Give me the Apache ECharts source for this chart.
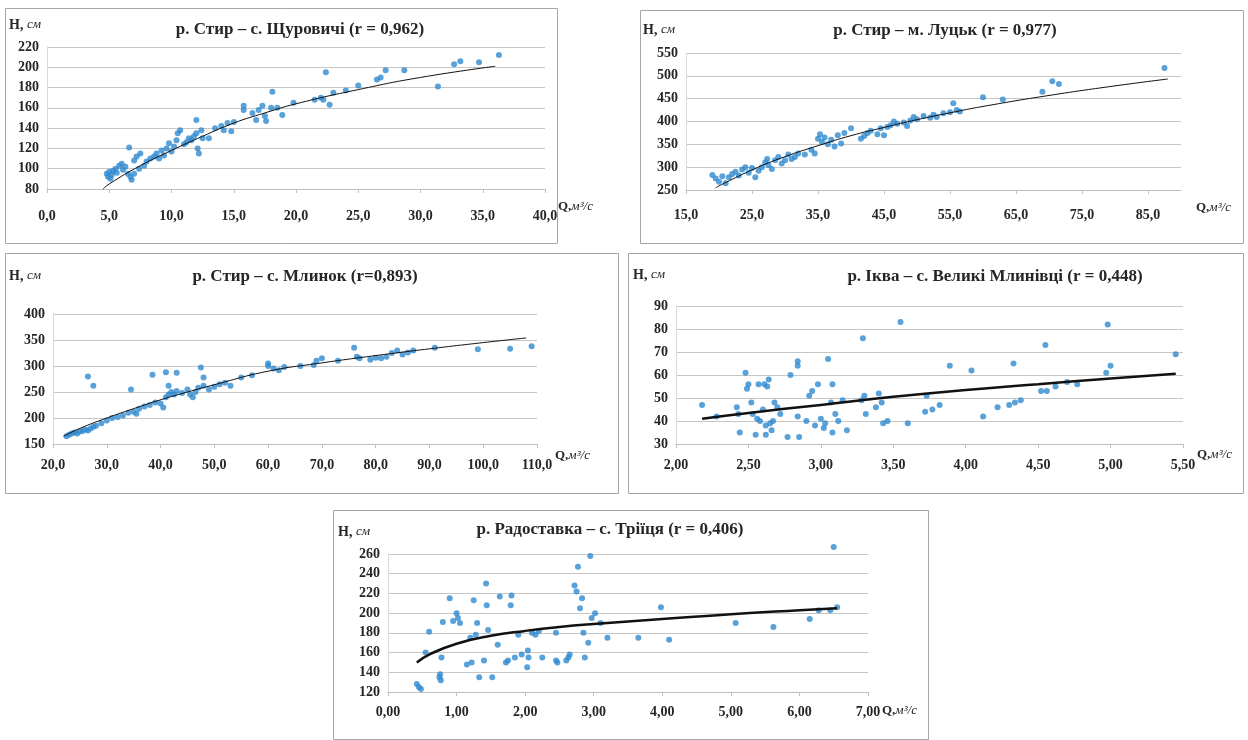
<!DOCTYPE html>
<html>
<head>
<meta charset="utf-8">
<title>H = f(Q)</title>
<script src="https://cdn.jsdelivr.net/npm/echarts@6/dist/echarts.min.js"></script>
<style>
  html, body { margin: 0; padding: 0; background: #fff; }
  #chart { width: 1248px; height: 740px; }
</style>
</head>
<body>
<div id="chart"></div>
<script>
// Залежність рівня води H (см) від витрати Q (м³/с) для п'яти постів

const titles = [
  'р. Стир – с. Щуровичі (r = 0,962)',
  'р. Стир – м. Луцьк (r = 0,977)',
  'р. Стир – с. Млинок (r=0,893)',
  'р. Іква – с. Великі Млинівці (r = 0,448)',
  'р. Радоставка – с. Тріїця (r = 0,406)'
]

// осі: [min, max, interval]
const xRange = [[0, 40, 5], [15, 90, 10], [20, 110, 10], [2, 5.5, 0.5], [0, 7, 1]]
const yRange = [[80, 220, 20], [250, 550, 50], [150, 400, 50], [30, 90, 10], [120, 260, 20]]
const xDecimals = [1, 1, 1, 2, 2]

// р. Стир – с. Щуровичі
const shchurovychiPoints = [
  [4.8, 95], [4.9, 92], [5.0, 97], [5.1, 90], [5.2, 94], [5.3, 98], [5.5, 100], [5.6, 96],
  [5.8, 103], [6.0, 105], [6.1, 99], [6.3, 102], [6.5, 95], [6.6, 121], [6.7, 92], [6.8, 89],
  [7.0, 95], [7.0, 108], [7.2, 112], [7.4, 100], [7.5, 115], [7.8, 103], [8.0, 107], [8.3, 110],
  [8.6, 112], [8.8, 115], [9.0, 110], [9.2, 118], [9.4, 113], [9.6, 120], [9.8, 125], [10.0, 117],
  [10.2, 122], [10.4, 128], [10.5, 135], [10.7, 138], [11.0, 124], [11.2, 126], [11.4, 130],
  [11.6, 128], [11.8, 132], [12.0, 135], [12.0, 148], [12.1, 120], [12.2, 115], [12.4, 138],
  [12.5, 130], [13.0, 130], [13.5, 140], [14.0, 142], [14.2, 138], [14.5, 145], [14.8, 137],
  [15.0, 146], [15.8, 158], [15.8, 162], [16.5, 155], [16.8, 148], [17.0, 158], [17.3, 162],
  [17.5, 152], [17.6, 147], [18.0, 160], [18.1, 176], [18.5, 160], [18.9, 153], [19.8, 165],
  [21.5, 168], [22.0, 170], [22.2, 168], [22.4, 195], [22.7, 163], [23.0, 175], [24.0, 177],
  [25.0, 182], [26.5, 188], [26.8, 190], [27.2, 197], [28.7, 197], [31.4, 181], [32.7, 203],
  [33.2, 206], [34.7, 205], [36.3, 212]
]
const shchurovychiTrend = [
  [4.5, 80], [5, 85], [7.5, 103], [10, 118], [12.5, 132], [15, 145], [17.5, 155],
  [20, 164], [25, 178], [30, 190], [36, 201]
]

// р. Стир – м. Луцьк
const lutskPoints = [
  [19, 283], [19.5, 275], [20, 268], [20.5, 280], [21, 265], [21.5, 278], [22, 285], [22.5, 290],
  [23, 282], [23.5, 295], [24, 300], [24.5, 288], [25, 298], [25.5, 278], [26, 292], [26.5, 300],
  [27, 310], [27.3, 318], [27.5, 305], [28, 296], [28.5, 315], [29, 322], [29.5, 308], [30, 315],
  [30.5, 328], [31, 318], [31.5, 322], [32, 330], [33, 328], [34, 338], [34.5, 330], [35, 362],
  [35.3, 372], [35.6, 355], [36, 365], [36.5, 350], [37, 360], [37.5, 345], [38, 370],
  [38.5, 352], [39, 375], [40, 385], [41.5, 362], [42, 368], [42.5, 375], [43, 380], [44, 372],
  [44.5, 385], [45, 370], [45.5, 388], [46, 392], [46.5, 400], [47, 395], [48, 398], [48.5, 390],
  [49, 402], [49.5, 410], [50, 405], [51, 412], [52, 408], [52.5, 415], [53, 410], [54, 418],
  [55, 420], [55.5, 440], [56, 425], [56.5, 422], [60, 453], [63, 448], [69, 465], [70.5, 488],
  [71.5, 482], [87.5, 517]
]
const lutskTrend = [
  [19.5, 255], [25, 294], [30, 323], [35, 347], [40, 369], [45, 387], [50, 404],
  [55, 419], [60, 433], [70, 457], [80, 478], [88, 493]
]

// р. Стир – с. Млинок
const mlynokPoints = [
  [22.5, 165], [23, 168], [23.5, 170], [24, 172], [24.5, 170], [25, 174], [25.5, 175], [26, 178],
  [26.5, 176], [27, 180], [27.5, 183], [28, 185], [29, 190], [30, 195], [31, 200], [32, 202],
  [33, 205], [34, 210], [35, 212], [35.5, 208], [36, 218], [37, 222], [38, 225], [39, 230],
  [40, 228], [40.5, 220], [41, 240], [41.5, 245], [42, 250], [42.5, 245], [43, 252], [44, 248],
  [45, 255], [45.5, 245], [46, 240], [46.5, 250], [47, 258], [48, 262], [49, 255], [50, 260],
  [51, 265], [52, 268], [53, 262], [55, 278], [57, 282], [60, 300], [61, 295], [62, 292],
  [63, 298], [66, 300], [68.5, 302], [69, 310], [70, 315], [73, 310], [76, 335], [76.5, 318],
  [77, 315], [79, 312], [80, 316], [81, 315], [82, 318], [83, 325], [84, 330], [85, 322],
  [86, 326], [87, 330], [91, 335], [99, 332], [105, 333], [109, 338],
  [26.5, 280], [27.5, 262], [34.5, 255], [38.5, 283], [41, 288], [43, 287], [47.5, 297],
  [48, 278], [41.5, 262], [60, 305]
]
const mlynokTrend = [
  [22, 165], [25, 180], [30, 200], [35, 218], [40, 235], [45, 250], [50, 264],
  [60, 290], [70, 306], [80, 320], [90, 333], [100, 345], [108, 354]
]

// р. Іква – с. Великі Млинівці
const mlynivtsiPoints = [
  [2.18, 47], [2.28, 42], [2.42, 46], [2.43, 43], [2.44, 35], [2.48, 61], [2.49, 54], [2.50, 56],
  [2.52, 48], [2.53, 43], [2.55, 34], [2.56, 41], [2.57, 56], [2.58, 40], [2.60, 45], [2.61, 56],
  [2.62, 38], [2.62, 34], [2.63, 55], [2.64, 58], [2.65, 39], [2.66, 36], [2.67, 40], [2.68, 48],
  [2.70, 46], [2.72, 43], [2.77, 33], [2.79, 60], [2.84, 66], [2.84, 64], [2.84, 42], [2.85, 33],
  [2.90, 40], [2.92, 51], [2.94, 53], [2.96, 38], [2.98, 56], [3.00, 41], [3.02, 37], [3.03, 39],
  [3.05, 67], [3.07, 48], [3.08, 35], [3.08, 56], [3.10, 43], [3.12, 40], [3.15, 49], [3.18, 36],
  [3.28, 49], [3.29, 76], [3.30, 51], [3.31, 43], [3.38, 46], [3.40, 52], [3.42, 48], [3.43, 39],
  [3.46, 40], [3.55, 83], [3.60, 39], [3.72, 44], [3.73, 51], [3.77, 45], [3.82, 47], [3.89, 64],
  [4.04, 62], [4.12, 42], [4.22, 46], [4.30, 47], [4.33, 65], [4.34, 48], [4.38, 49], [4.52, 53],
  [4.55, 73], [4.56, 53], [4.62, 55], [4.70, 57], [4.77, 56], [4.97, 61], [4.98, 82], [5.00, 64],
  [5.45, 69]
]
const mlynivtsiTrend = [
  [2.18, 41], [2.5, 43.5], [3.0, 47], [3.5, 50.5], [4.0, 53.5], [4.5, 56], [5.0, 58.5], [5.45, 60.5]
]

// р. Радоставка – с. Тріїця
const triitsiaPoints = [
  [0.42, 128], [0.45, 125], [0.48, 123], [0.55, 160], [0.60, 181], [0.75, 135], [0.76, 138],
  [0.77, 132], [0.78, 155], [0.80, 191], [0.90, 215], [0.95, 192], [1.00, 200], [1.02, 195],
  [1.05, 190], [1.15, 148], [1.20, 175], [1.22, 150], [1.25, 213], [1.28, 178], [1.30, 190],
  [1.33, 135], [1.40, 152], [1.43, 230], [1.44, 208], [1.46, 183], [1.52, 135], [1.60, 168],
  [1.63, 217], [1.72, 150], [1.75, 152], [1.79, 208], [1.80, 218], [1.85, 155], [1.90, 178],
  [1.95, 158], [2.03, 145], [2.04, 162], [2.05, 155], [2.10, 180], [2.15, 178], [2.20, 182],
  [2.25, 155], [2.45, 180], [2.45, 152], [2.47, 150], [2.60, 152], [2.63, 155], [2.65, 158],
  [2.72, 228], [2.75, 222], [2.77, 247], [2.80, 205], [2.83, 215], [2.85, 180], [2.87, 155],
  [2.92, 170], [2.95, 258], [2.97, 195], [3.02, 200], [3.10, 190], [3.20, 175], [3.65, 175],
  [3.98, 206], [4.10, 173], [5.07, 190], [5.62, 186], [6.15, 194], [6.28, 203], [6.45, 203],
  [6.50, 267], [6.55, 206]
]
const triitsiaTrend = [
  [0.42, 150], [0.6, 158], [1.0, 169], [1.5, 177], [2.0, 182], [2.5, 186], [3.0, 189],
  [4.0, 194], [5.0, 199], [6.0, 203], [6.55, 205]
]

const points = [shchurovychiPoints, lutskPoints, mlynokPoints, mlynivtsiPoints, triitsiaPoints]
const trends = [shchurovychiTrend, lutskTrend, mlynokTrend, mlynivtsiTrend, triitsiaTrend]

// розмітка: рамка [x, y, w, h], сітка [left, top, width, height]
const frames = [[5, 8, 552, 235], [640, 10, 603, 233], [5, 253, 613, 240], [628, 253, 615, 240], [333, 510, 595, 229]]
const grids = [[47, 47, 498, 142], [686, 53, 495, 137], [53, 314, 484, 130], [676, 306, 507, 138], [388, 554, 480, 138]]
const titlePos = [[300, 30], [945, 31], [305, 277], [995, 277], [610, 530]]
const hPos = [[9, 25], [643, 30], [9, 276], [633, 275], [338, 532]]
const qPos = [[558, 207], [1196, 208], [555, 456], [1197, 455], [882, 711]]
const lineWidth = [1, 1, 1, 2.5, 2.5]
const xMargin = [20, 18, 14, 14, 13]

const serif = "'Liberation Serif', 'DejaVu Serif', serif"
const fmt = (v, d) => v.toFixed(d).replace('.', ',')

const myChart = echarts.init(document.getElementById('chart'))

const grid = [], xAxis = [], yAxis = [], series = [], graphic = []

for (let i = 0; i < 5; i++) {
  const g = grids[i]
  grid.push({ left: g[0], top: g[1], width: g[2], height: g[3], containLabel: false })
  xAxis.push({
    gridIndex: i,
    type: 'value',
    min: xRange[i][0],
    max: xRange[i][1],
    interval: xRange[i][2],
    axisLine: { show: true, lineStyle: { color: '#bfbfbf' } },
    axisTick: { show: true, length: 4, lineStyle: { color: '#bfbfbf' } },
    splitLine: { show: false },
    axisLabel: {
      margin: xMargin[i],
      showMaxLabel: i !== 1,
      formatter: (v) => fmt(v, xDecimals[i]),
      fontFamily: serif,
      fontWeight: 'bold',
      fontSize: 14,
      color: '#262626',
    },
  })
  yAxis.push({
    gridIndex: i,
    type: 'value',
    min: yRange[i][0],
    max: yRange[i][1],
    interval: yRange[i][2],
    axisLine: { show: true, lineStyle: { color: '#d9d9d9' } },
    axisTick: { show: false },
    splitLine: { show: true, lineStyle: { color: '#c6c6c6' } },
    axisLabel: {
      margin: 8,
      fontFamily: serif,
      fontWeight: 'bold',
      fontSize: 14,
      color: '#262626',
    },
  })
  series.push({
    type: 'scatter',
    xAxisIndex: i,
    yAxisIndex: i,
    data: points[i],
    symbolSize: 6,
    clip: false,
    itemStyle: { color: '#2f8ad0' },
  })
  series.push({
    type: 'line',
    xAxisIndex: i,
    yAxisIndex: i,
    data: trends[i],
    smooth: true,
    showSymbol: false,
    lineStyle: { color: '#111', width: lineWidth[i] },
    z: 3,
  })

  // рамка панелі
  graphic.push({
    type: 'rect',
    shape: { x: frames[i][0] + 0.5, y: frames[i][1] + 0.5, width: frames[i][2], height: frames[i][3] },
    style: { fill: 'none', stroke: '#a6a6a6', lineWidth: 1 },
    z: -1,
  })
  // заголовок
  graphic.push({
    type: 'text',
    x: titlePos[i][0],
    y: titlePos[i][1],
    style: {
      text: titles[i],
      font: 'bold 17px ' + serif,
      fill: '#262626',
      align: 'center',
      verticalAlign: 'middle',
    },
  })
  // підпис осі H
  graphic.push({
    type: 'text',
    x: hPos[i][0],
    y: hPos[i][1],
    style: {
      text: '{b|Н, }{i|см}',
      verticalAlign: 'middle',
      rich: {
        b: { fontFamily: serif, fontWeight: 'bold', fontSize: 14, fill: '#262626' },
        i: { fontFamily: serif, fontStyle: 'italic', fontSize: 13, fill: '#262626' },
      },
    },
  })
  // підпис осі Q
  graphic.push({
    type: 'text',
    x: qPos[i][0],
    y: qPos[i][1],
    style: {
      text: '{b|Q,}{i|м³/с}',
      verticalAlign: 'middle',
      rich: {
        b: { fontFamily: serif, fontWeight: 'bold', fontSize: 13, fill: '#262626' },
        i: { fontFamily: serif, fontStyle: 'italic', fontSize: 13, fill: '#262626' },
      },
    },
  })
}

const option = {
  animation: false,
  backgroundColor: '#fff',
  grid: grid,
  xAxis: xAxis,
  yAxis: yAxis,
  series: series,
  graphic: graphic,
}
myChart.setOption(option)

window.addEventListener('resize', function () {
  myChart.resize()
})
</script>
</body>
</html>
